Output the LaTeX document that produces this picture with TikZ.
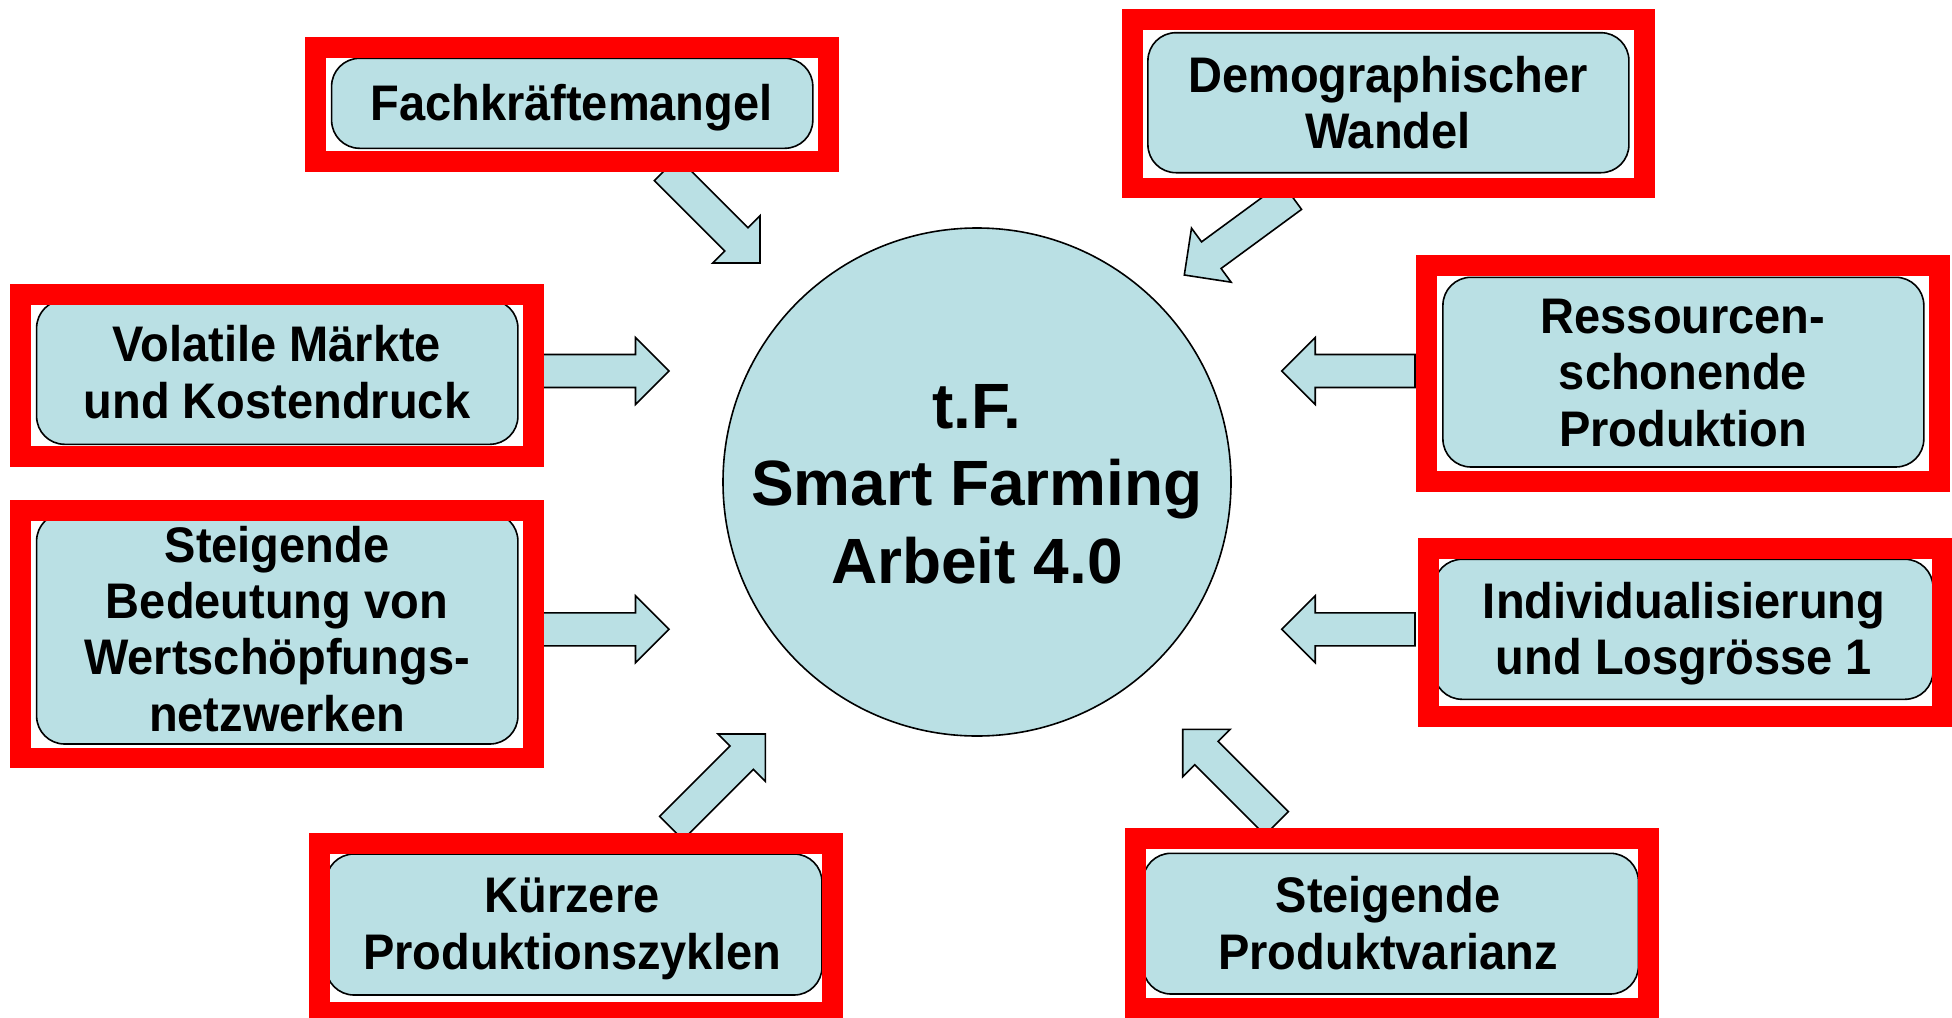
\documentclass[tikz,border=0pt]{standalone}
\usepackage{fontspec}
\setmainfont{Liberation Sans}
\newfontfamily\boxfont{Liberation Sans}[FakeStretch=0.94]
\newfontfamily\circfont{Liberation Sans}
\usetikzlibrary{calc}
\definecolor{framered}{RGB}{255,0,0}
\definecolor{boxblue}{RGB}{186,224,228}
\newcommand\lines[1]{\begin{tabular}[t]{@{}c@{}}#1\end{tabular}}
\newcommand\blockarrow[2]{%
  \coordinate (#1h) at ($(#2)!16.75pt!(#1)$);
  \draw[barrowst] ($(#1)!8.25pt!90:(#2)$) -- ($(#1h)!8.25pt!90:(#2)$)
    -- ($(#1h)!16.75pt!90:(#2)$) -- (#2) -- ($(#1h)!16.75pt!-90:(#2)$)
    -- ($(#1h)!8.25pt!-90:(#2)$) -- ($(#1)!8.25pt!-90:(#2)$) -- cycle;}
\tikzset{
  redframe/.style={draw=framered, line width=10.35pt, rectangle, inner sep=0pt, outer sep=0pt},
  rbox/.style={draw=black, fill=boxblue, line width=0.8pt, rounded corners=14pt, rectangle, inner sep=0pt},
  btext/.style={inner sep=0pt, anchor=base, font=\boxfont\bfseries\fontsize{25}{28.2}\selectfont},
  ctext/.style={inner sep=0pt, anchor=base, font=\circfont\bfseries\fontsize{32}{38.75}\selectfont},
  barrowst/.style={draw=black, fill=boxblue, line width=0.8pt, line join=miter},
  hubst/.style={circle, draw=black, fill=boxblue, line width=0.8pt, minimum size=254pt, inner sep=0pt}
}
\begin{document}
\begin{tikzpicture}[x=0.5pt, y=-0.5pt]
\useasboundingbox (0,0) rectangle (1952,1017);
\clip (0,0) rectangle (1952,1017);
\fill[white] (0,0) rectangle (1952,1017);

% arrow end points
\coordinate (a1s) at (666,169);      \coordinate (a1e) at (760,263);
\coordinate (a2s) at (1291.8,196.1); \coordinate (a2e) at (1184.3,275);
\coordinate (a3s) at (536,371);      \coordinate (a3e) at (669,371);
\coordinate (a4s) at (536,629.3);    \coordinate (a4e) at (669,629.3);
\coordinate (a5s) at (1415,371);     \coordinate (a5e) at (1281.7,371);
\coordinate (a6s) at (1415,629.3);   \coordinate (a6e) at (1281.7,629.3);
\coordinate (a7s) at (671.3,828);    \coordinate (a7e) at (765.3,734);
\coordinate (a8s) at (1276.7,823.3); \coordinate (a8e) at (1182.7,729.3);
\blockarrow{a1s}{a1e}
\blockarrow{a2s}{a2e}
\blockarrow{a3s}{a3e}
\blockarrow{a4s}{a4e}
\blockarrow{a5s}{a5e}
\blockarrow{a6s}{a6e}
\blockarrow{a7s}{a7e}
\blockarrow{a8s}{a8e}

% rounded boxes
\node[rbox, minimum width=240.6pt, minimum height=45pt]    (b1) at (572.2,103.3) {};
\node[rbox, minimum width=240.5pt, minimum height=70pt]    (b2) at (1388.4,102.7) {};
\node[rbox, minimum width=240.65pt, minimum height=72.15pt] (b3) at (277.25,372.15) {};
\node[rbox, minimum width=240.65pt, minimum height=115.5pt] (b4) at (277.25,628.5) {};
\node[rbox, minimum width=240.45pt, minimum height=94.85pt] (b5) at (1683.35,372.15) {};
\node[rbox, minimum width=249.5pt, minimum height=70pt]    (b6) at (1683.5,629.3) {};
\node[rbox, minimum width=248pt, minimum height=70.5pt]    (b7) at (574,924.5) {};
\node[rbox, minimum width=247.7pt, minimum height=70.35pt] (b8) at (1390.7,923.65) {};

% red frames
\node[redframe, minimum width=256.5pt,  minimum height=56.85pt] (f1) at (572.2,104.5) {};
\node[redframe, minimum width=256.25pt, minimum height=84.15pt] (f2) at (1388.4,103.8) {};
\node[redframe, minimum width=256.65pt, minimum height=81pt]    (f3) at (276.8,375.35) {};
\node[redframe, minimum width=256.65pt, minimum height=123.8pt] (f4) at (276.8,634.15) {};
\node[redframe, minimum width=256.5pt,  minimum height=108pt]   (f5) at (1683.15,373.35) {};
\node[redframe, minimum width=256.65pt, minimum height=83.85pt] (f6) at (1685.4,632.5) {};
\node[redframe, minimum width=256.65pt, minimum height=84.2pt]  (f7) at (575.9,927.85) {};
\node[redframe, minimum width=256.25pt, minimum height=84.7pt]  (f8) at (1392,923.35) {};

% centre
\node[hubst] (hub) at (977,482) {};
\node[ctext] (hubtext) at (977,428.3) {\lines{t.F.\\Smart Farming\\Arbeit 4.0}};

% texts
\node[btext] (t1) at (571.5,120.7) {\lines{Fachkräftemangel}};
\node[btext] (t2) at (1388,92) {\lines{Demographischer\\Wandel}};
\node[btext] (t3) at (277,361.7) {\lines{Volatile Märkte\\und Kostendruck}};
\node[btext] (t4) at (277,562) {\lines{Steigende\\Bedeutung von\\Wertschöpfungs-\\netzwerken}};
\node[btext] (t5) at (1683,333.3) {\lines{Ressourcen-\\schonende\\Produktion}};
\node[btext] (t6) at (1684,618.3) {\lines{Individualisierung\\und Losgrösse 1}};
\node[btext] (t7) at (572,912.7) {\lines{Kürzere\\Produktionszyklen}};
\node[btext] (t8) at (1388,912.7) {\lines{Steigende\\Produktvarianz}};
\end{tikzpicture}
\end{document}
